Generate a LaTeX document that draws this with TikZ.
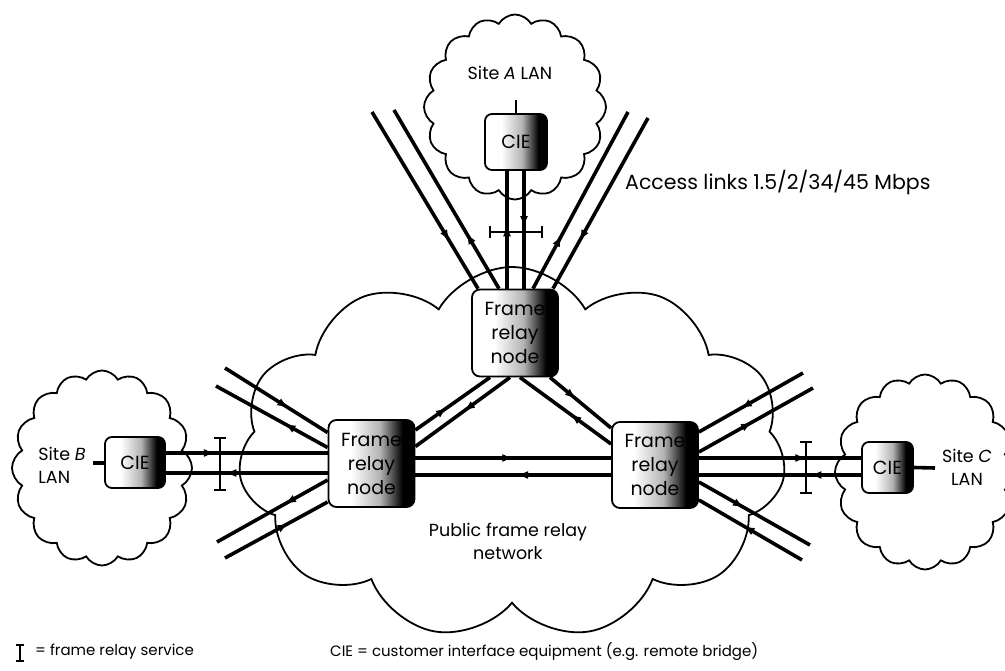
\documentclass[tikz,border=0pt]{standalone}
\usepackage{fontspec}
\setmainfont{Poppins}
\usetikzlibrary{shapes.symbols,arrows.meta,decorations.markings,calc}
\pgfdeclarehorizontalshading{boxshade}{100bp}{color(0bp)=(white); color(38bp)=(white); color(55bp)=(gray!60); color(68bp)=(black); color(100bp)=(black)}
\tikzset{
  cloudshape/.style={cloud, draw, line width=1.8pt, inner sep=0pt, cloud ignores aspect, cloud puff arc=120},
  relaybox/.style={draw, line width=1.8pt, rounded corners=8pt, shading=boxshade, inner sep=0pt,
     minimum width=86pt, minimum height=87pt, align=center, font=\fontsize{19}{24}\selectfont},
  ciebox/.style={draw, line width=1.8pt, rounded corners=7pt, shading=boxshade, inner sep=0pt,
     font=\fontsize{19}{22}\selectfont},
  link/.style={line width=3.6pt},
  arr/.style={postaction={decorate, decoration={markings, mark=at position #1 with {\arrow{Triangle[length=9pt,width=7pt]}}}}},
  ibeam/.style={line width=1.3pt},
  lbl/.style={font=\fontsize{17.5}{23}\selectfont, inner sep=0pt},
  legend/.style={font=\fontsize{15}{18}\selectfont, inner sep=0pt, anchor=west}
}
\begin{document}
\begin{tikzpicture}[x=1pt,y=-1pt]
\useasboundingbox (0,0) rectangle (1005,671);
\begin{scope}
\clip (0,0) rectangle (1005,671);
% clouds
\node[cloudshape, cloud puffs=16, minimum width=182pt, minimum height=185pt] (siteA) at (515,107) {};
\node[cloudshape, cloud puffs=16, minimum width=180pt, minimum height=195pt] (siteB) at (102,468) {};
\node[cloudshape, cloud puffs=16, minimum width=180pt, minimum height=195pt] (siteC) at (925,472) {};
\node[cloudshape, cloud puffs=11, minimum width=548pt, minimum height=372pt] (pub) at (512,453) {};
\end{scope}

% text inside clouds
\node[lbl] (tA) at (510,73) {Site \textit{A} LAN};
\node[lbl, align=left] (tB) at (62,465) {Site \textit{B}\\LAN};
\node[lbl, align=center] (tC) at (967,467) {Site \textit{C}\\LAN};
\node[lbl, align=center] (tP) at (508,541) {Public frame relay\\network};
\node[lbl, anchor=west, font=\fontsize{20.5}{24}\selectfont] (tL) at (625,183) {Access links 1.5/2/34/45 Mbps};

% nodes
\node[relaybox] (topN) at (515,333) {Frame\\relay\\node};
\node[relaybox] (leftN) at (371.5,463.5) {Frame\\relay\\node};
\node[relaybox, minimum width=86pt, minimum height=86pt] (rightN) at (655,465) {Frame\\relay\\node};
\node[ciebox, minimum width=62pt, minimum height=56pt] (cieA) at (516,142) {CIE};
\node[ciebox, minimum width=60pt, minimum height=51pt] (cieB) at (135,462.5) {CIE};
\node[ciebox, minimum width=51pt, minimum height=51pt] (cieC) at (887.5,467.5) {CIE};

% free ends
\coordinate (a1) at (372,112);
\coordinate (a2) at (394,110);
\coordinate (a3) at (628,112);
\coordinate (a4) at (648,118);
\coordinate (b1) at (225,368);
\coordinate (b2) at (216,386);
\coordinate (b3) at (217,542);
\coordinate (b4) at (225,558);
\coordinate (c1) at (803,373);
\coordinate (c2) at (813,388);
\coordinate (c3) at (810,545);
\coordinate (c4) at (802,560);
\coordinate (sA) at (516,100);
\coordinate (sB) at (93,463);
\coordinate (sC) at (935,468);

% site stubs
\draw[line width=1.3pt] (cieA.north) -- (sA);
\draw[link] ([yshift=-0.5pt]cieB.west) -- (sB);
\draw[link] (cieC.east) -- (sC);

% top node links
\draw[link, arr=0.52] ([xshift=-8pt]topN.north) -- ([xshift=-9pt]cieA.south);
\draw[link, arr=0.46] ([xshift=8pt]cieA.south) -- ([xshift=9pt]topN.north);
\draw[link, arr=0.72] (a1) -- ([xshift=-37pt]topN.north);
\draw[link, arr=0.3] ([xshift=-16pt]topN.north) -- (a2);
\draw[link, arr=0.29] ([xshift=18pt]topN.north) -- (a3);
\draw[link, arr=0.71] (a4) -- ([xshift=38pt]topN.north);

% top to left / right
\draw[link, arr=0.4] ([yshift=33.5pt]leftN.east) -- ([xshift=-25pt]topN.south);
\draw[link, arr=0.47] ([xshift=-5pt]topN.south) -- ([yshift=17pt]leftN.east);
\draw[link, arr=0.4] ([xshift=35pt]topN.south) -- ([yshift=37pt]rightN.west);
\draw[link, arr=0.43] ([yshift=21pt]rightN.west) -- ([xshift=5pt]topN.south);

% left to right
\draw[link, arr=0.49] ([yshift=5.5pt]leftN.east) -- ([yshift=7pt]rightN.west);
\draw[link, arr=0.47] ([yshift=-10pt]rightN.west) -- ([yshift=-11.5pt]leftN.east);

% left node external
\draw[link, arr=0.6] (b1) -- ([yshift=31pt]leftN.west);
\draw[link, arr=0.37] ([yshift=16pt]leftN.west) -- (b2);
\draw[link, arr=0.29] ([yshift=9.5pt]cieB.east) -- ([yshift=10.5pt]leftN.west);
\draw[link, arr=0.62] ([yshift=-9.5pt]leftN.west) -- ([yshift=-10.5pt]cieB.east);
\draw[link, arr=0.37] ([yshift=-16.5pt]leftN.west) -- (b3);
\draw[link, arr=0.6] (b4) -- ([yshift=-38.5pt]leftN.west);

% right node external
\draw[link, arr=0.58] (c1) -- ([yshift=33pt]rightN.east);
\draw[link, arr=0.45] ([yshift=13pt]rightN.east) -- (c2);
\draw[link, arr=0.65] ([yshift=7pt]rightN.east) -- ([yshift=9.5pt]cieC.west);
\draw[link, arr=0.3] ([yshift=-7.5pt]cieC.west) -- ([yshift=-10pt]rightN.east);
\draw[link, arr=0.39] ([yshift=-17pt]rightN.east) -- (c3);
\draw[link, arr=0.55] (c4) -- ([yshift=-35pt]rightN.east);

% frame relay service markers
\coordinate (iA1) at (490,232); \coordinate (iA2) at (542,232);
\draw[ibeam] (iA1) -- (iA2);
\draw[ibeam] ($(iA1)+(0,-6)$) -- ($(iA1)+(0,6)$);
\draw[ibeam] ($(iA2)+(0,-6)$) -- ($(iA2)+(0,6)$);
\coordinate (iB1) at (220,438); \coordinate (iB2) at (220,490);
\draw[ibeam] (iB1) -- (iB2);
\draw[ibeam] ($(iB1)+(-6,0)$) -- ($(iB1)+(6,0)$);
\draw[ibeam] ($(iB2)+(-6,0)$) -- ($(iB2)+(6,0)$);
\coordinate (iC1) at (806,442); \coordinate (iC2) at (806,493);
\draw[ibeam] (iC1) -- (iC2);
\draw[ibeam] ($(iC1)+(-6,0)$) -- ($(iC1)+(6,0)$);
\draw[ibeam] ($(iC2)+(-6,0)$) -- ($(iC2)+(6,0)$);

% legend
\coordinate (iL1) at (20,645); \coordinate (iL2) at (20,661);
\draw[ibeam] (iL1) -- (iL2);
\draw[ibeam] ($(iL1)+(-4,0)$) -- ($(iL1)+(4,0)$);
\draw[line width=2pt] ($(iL2)+(-4,0)$) -- ($(iL2)+(4,0)$);
\node[legend] (lg1) at (35,652) {= frame relay service};
\node[legend] (lg2) at (330,652) {CIE = customer interface equipment (e.g. remote bridge)};
\end{tikzpicture}
\end{document}
